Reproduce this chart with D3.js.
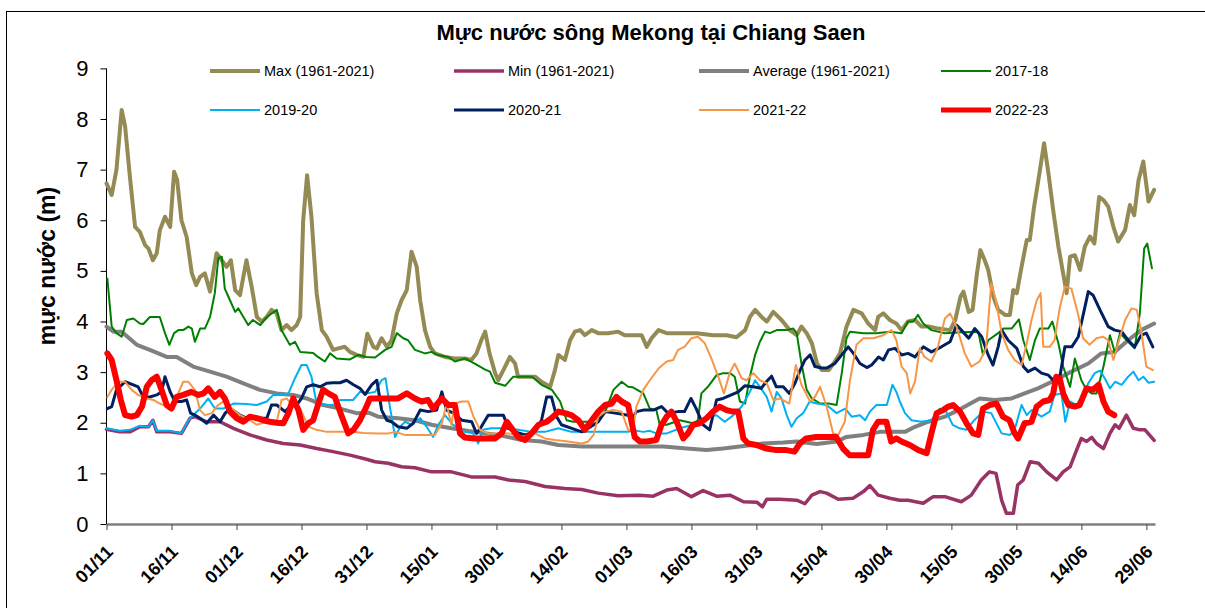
<!DOCTYPE html>
<html>
<head>
<meta charset="utf-8">
<script src="https://cdn.jsdelivr.net/npm/d3@7"></script>
<style>
  body { margin: 0; background: #fff; }
  text { font-family: "Liberation Sans", Arial, sans-serif; }
</style>
</head>
<body>
<div class="chart"></div>
<script>
// data: [day since 01/11, water level (m)]
const tickDays = [0, 15, 30, 45, 60, 75, 90, 105, 120, 135, 150, 165, 180, 195, 210, 225, 240]
const tickLabels = ['01/11','16/11','01/12','16/12','31/12','15/01','30/01','14/02','01/03','16/03','31/03','15/04','30/04','15/05','30/05','14/06','29/06']
const yTicks = [0, 1, 2, 3, 4, 5, 6, 7, 8, 9]

const maxData = [[0,6.73],[1.2,6.5],[2.3,7.0],[3.5,8.18],[4.3,7.85],[5.4,6.86],[6.6,5.87],[7.7,5.77],[8.9,5.51],[9.7,5.44],[10.7,5.21],[11.6,5.35],[12.3,5.8],[13.5,6.07],[14.7,5.87],[15.6,6.96],[16.3,6.8],[17.3,6.0],[18.5,5.67],[19.7,4.95],[20.7,4.72],[21.6,4.88],[22.7,4.95],[23.9,4.59],[25.4,5.35],[26.6,5.21],[27.7,5.08],[28.7,5.21],[29.7,4.62],[30.8,4.52],[32.3,5.21],[33.5,4.69],[34.7,4.09],[35.8,4.0],[37,4.09],[38.1,4.23],[39.3,4.16],[40.4,3.83],[41.6,3.93],[42.7,3.83],[43.9,3.93],[44.7,4.09],[45.4,6.0],[46.3,6.89],[47.3,6.07],[48.5,4.56],[49.7,3.83],[50.8,3.7],[52.3,3.44],[53.5,3.47],[55,3.5],[56.2,3.4],[57.7,3.34],[59.3,3.3],[60.2,3.76],[61.6,3.5],[62.4,3.47],[63.5,3.67],[64.7,3.5],[65.8,3.63],[67,4.16],[68.1,4.42],[69.3,4.62],[70.4,5.38],[71.6,5.08],[72.4,4.42],[73.5,3.83],[74.7,3.5],[75.8,3.37],[78.1,3.3],[80.4,3.27],[82.7,3.27],[84.2,3.24],[85.4,3.37],[86.5,3.63],[87.4,3.8],[88.4,3.37],[89.7,2.98],[90.4,2.84],[91.6,3.04],[93.1,3.3],[94.3,3.17],[95,2.91],[96.6,2.91],[98.9,2.91],[100.4,2.81],[102.4,2.71],[103.5,3.04],[104.3,3.34],[105.8,3.24],[107,3.63],[108.1,3.8],[109.3,3.83],[110.4,3.73],[112,3.83],[113.5,3.77],[115.8,3.77],[118.1,3.8],[119.6,3.73],[123.5,3.73],[124.7,3.5],[125.8,3.67],[127.4,3.83],[129.3,3.77],[132.3,3.77],[136.2,3.77],[140,3.73],[143.1,3.73],[145.4,3.69],[147.4,3.83],[148.5,4.09],[149.7,4.23],[151.2,4.09],[152.4,4.0],[153.9,4.19],[155.8,4.03],[157.7,3.83],[159.3,3.73],[160.4,3.9],[161.6,3.77],[162.8,3.57],[164,3.17],[165.1,3.04],[166.7,3.04],[167.8,3.17],[169.3,3.37],[170.8,3.9],[172.4,4.23],[174.3,4.16],[175.8,3.96],[177.4,3.83],[178.1,4.09],[179.3,4.16],[180.8,4.03],[182.3,3.96],[183.5,3.83],[185,4.0],[186.6,4.03],[188.1,3.9],[189.7,3.9],[192,3.86],[194.7,3.83],[195.9,4.03],[197.1,4.49],[197.8,4.59],[199,4.19],[199.9,4.23],[200.9,4.95],[201.7,5.41],[202.7,5.21],[203.5,5.02],[204.7,4.49],[205.8,4.23],[207.4,4.13],[208.5,4.13],[209.3,4.62],[210.1,4.56],[211.2,5.08],[212.4,5.61],[213.1,5.61],[214.1,6.27],[215.2,6.86],[216.4,7.52],[217.4,6.93],[218.5,6.2],[219.7,5.48],[220.8,4.95],[221.6,4.56],[222.4,5.28],[223.5,5.31],[224.7,5.02],[225.8,5.48],[227,5.68],[228,5.54],[229.1,6.46],[230.1,6.4],[231.2,6.27],[232.4,5.87],[233.5,5.58],[235.1,5.81],[236.2,6.3],[237.2,6.1],[238.2,6.79],[239.3,7.16],[240.5,6.37],[241.8,6.6]]

const minData = [[0,1.87],[3,1.82],[5.4,1.82],[7.7,1.92],[9.7,1.92],[10.7,2.05],[11.6,1.82],[14.7,1.82],[17.3,1.79],[19.3,2.09],[20.4,2.12],[23.1,2.02],[26.2,2.02],[29.3,1.89],[33.1,1.76],[37,1.66],[40.8,1.59],[44.7,1.56],[48.5,1.49],[52.3,1.43],[56.2,1.36],[60,1.28],[62,1.23],[65,1.2],[68.1,1.13],[71.2,1.11],[75,1.03],[79.6,1.03],[84.2,0.93],[89.7,0.93],[92.8,0.87],[96.6,0.84],[101.2,0.74],[105.8,0.7],[109.7,0.68],[113.5,0.61],[118.1,0.56],[123,0.57],[126.2,0.55],[129.3,0.67],[131.6,0.7],[135,0.54],[137.7,0.66],[140.8,0.55],[143.9,0.57],[147,0.44],[150.1,0.43],[151.4,0.34],[152.4,0.49],[155.4,0.49],[159.3,0.47],[161.2,0.4],[162.8,0.57],[164.7,0.64],[166.2,0.61],[168.9,0.49],[172.3,0.51],[174.7,0.64],[176.2,0.76],[178.1,0.57],[180.8,0.51],[183.1,0.47],[185,0.47],[188.5,0.41],[190.8,0.54],[193.5,0.54],[197.3,0.44],[199.6,0.57],[201.9,0.87],[203.8,1.03],[205.3,1.0],[206.6,0.47],[207.7,0.21],[209.3,0.21],[210.3,0.77],[211.6,0.87],[213.2,1.23],[215.1,1.2],[217,1.03],[219.3,0.87],[220.8,1.03],[222.4,1.13],[223.9,1.46],[225,1.69],[226.2,1.63],[227.4,1.71],[228.5,1.59],[230.1,1.49],[231.6,1.79],[232.8,1.96],[233.7,1.89],[235.4,2.15],[237,1.89],[238.5,1.86],[239.7,1.86],[241.8,1.65]]

const avgData = [[0,3.9],[1.6,3.8],[3.5,3.8],[7,3.54],[10,3.44],[13.9,3.3],[16.2,3.3],[20,3.11],[23.9,3.01],[27.7,2.91],[31.6,2.78],[35.4,2.65],[39.3,2.58],[43.1,2.55],[46.2,2.48],[50,2.35],[53.9,2.28],[57.7,2.19],[60.5,2.2],[62.7,2.12],[67.3,2.09],[71.2,2.05],[75,1.96],[79.6,1.89],[85,1.82],[90.4,1.76],[95.8,1.66],[100.4,1.63],[104.3,1.56],[109.7,1.53],[115,1.53],[122,1.53],[128.5,1.53],[133.9,1.49],[138.5,1.46],[142.3,1.49],[146.2,1.53],[151.5,1.59],[156.2,1.61],[159.3,1.63],[163.9,1.58],[168.5,1.63],[170.8,1.72],[174.7,1.76],[178.5,1.82],[184.3,1.82],[186.6,1.92],[189.7,2.02],[193.5,2.12],[197.3,2.28],[201.5,2.48],[205,2.45],[208.9,2.48],[211.9,2.58],[215,2.68],[218.9,2.84],[222.7,3.01],[226.6,3.17],[229.6,3.37],[232.7,3.4],[235.8,3.63],[238.8,3.83],[241.8,3.96]]

const y1718 = [[0.2,4.85],[1.2,3.9],[2.3,3.77],[3.5,3.7],[4.7,4.03],[6.2,4.06],[7.7,3.96],[8.5,3.95],[10,4.09],[12.3,4.09],[13.5,3.77],[14.5,3.54],[15.6,3.77],[16.6,3.83],[17.7,3.83],[18.9,3.9],[19.7,3.86],[20.4,3.6],[21.6,3.86],[22.7,3.86],[23.9,4.09],[25,4.56],[25.8,5.25],[26.6,5.28],[27.3,4.65],[28.5,4.42],[29.7,4.19],[30.4,4.26],[31.6,4.09],[32.7,3.93],[33.8,4.03],[35.5,3.93],[37,4.09],[39.3,4.23],[40.4,3.83],[42.3,3.54],[43.5,3.6],[44.7,3.4],[47.7,3.38],[48.8,3.3],[50.4,3.21],[51.6,3.37],[53.1,3.27],[56.2,3.25],[58.1,3.34],[60,3.3],[62,3.29],[64.3,3.44],[65.8,3.5],[67,3.77],[68.5,3.67],[69.6,3.63],[71.2,3.44],[73.5,3.37],[75,3.4],[76.5,3.34],[78.9,3.3],[80.4,3.21],[82.7,3.27],[85,3.17],[87.4,3.05],[88.5,3.01],[89.7,2.79],[92,2.73],[93.9,2.91],[95.8,2.91],[98.2,2.91],[100.4,2.75],[102.8,2.65],[104.7,2.42],[106.2,2.05],[107.7,2.02],[110,2.02],[112,2.02],[115,2.19],[117,2.65],[118.9,2.81],[120.4,2.71],[121.5,2.7],[123.9,2.58],[125.4,2.28],[126.9,2.25],[127.7,1.96],[129.3,1.96],[132.3,2.05],[135.4,1.99],[136.5,2.05],[137.3,2.58],[138.8,2.71],[140.8,2.94],[142.3,2.98],[143.9,2.98],[145,2.91],[146.2,2.42],[147.4,2.38],[148.5,2.91],[149.7,3.34],[150.8,3.6],[152,3.8],[153.1,3.77],[154.7,3.83],[157,3.83],[158.5,3.86],[159.3,3.77],[160.4,3.17],[161.6,2.65],[162.8,2.48],[164.7,2.38],[166.7,2.38],[168.5,2.35],[169.7,2.98],[170.8,3.67],[171.6,3.8],[174.7,3.77],[177.7,3.77],[180.8,3.8],[183.5,3.77],[185,4.0],[186.2,4.0],[187.3,4.13],[188.5,3.96],[190.4,3.83],[193.5,3.77],[197.3,3.79],[201.2,3.8],[202.3,3.34],[203.5,3.63],[205.8,3.77],[207,3.86],[208.9,3.86],[210.6,4.04],[211.6,3.63],[213.1,3.24],[214.3,3.63],[215.4,3.86],[217.4,3.86],[218.3,4.0],[219.7,3.57],[220.8,3.11],[222.4,2.71],[223.5,3.27],[225,2.84],[226.2,2.65],[227.4,2.58],[228.5,2.58],[230.1,3.11],[231.6,3.73],[232.8,3.37],[233.9,3.77],[235.8,3.6],[237.3,3.47],[238.5,4.16],[239.5,5.44],[240.2,5.54],[241.3,5.05]]

const y1920 = [[0,1.89],[3.1,1.84],[5.4,1.86],[7.7,1.94],[9.7,1.92],[10.7,2.05],[11.6,1.84],[14.7,1.84],[17.3,1.79],[18.9,2.05],[20,2.15],[21.6,2.28],[23.5,2.48],[25,2.28],[27,2.28],[29.3,2.38],[32.3,2.37],[34.7,2.35],[37,2.42],[38.5,2.55],[40.4,2.55],[42,2.58],[43.5,2.88],[45,3.14],[46.2,3.14],[47.3,2.91],[48.5,2.38],[49.7,2.35],[52.3,2.35],[53.9,2.45],[56.9,2.45],[58.5,2.61],[60,2.58],[62,2.61],[63.5,2.84],[64.4,2.88],[65.4,2.32],[66.6,1.72],[67.8,1.92],[68.9,2.02],[70.4,1.96],[72.4,2.09],[73.9,1.92],[75.4,1.72],[76.6,1.96],[78.1,2.15],[80,1.96],[82.7,1.82],[84.6,1.79],[85.8,1.59],[86.9,1.86],[88.8,1.89],[91.9,1.89],[95,1.86],[98.1,1.82],[101.2,1.82],[104.3,1.89],[107.3,1.82],[113.5,1.82],[120.4,1.82],[121.5,1.85],[123.9,1.82],[125.4,1.84],[126.9,1.79],[129.3,1.79],[132.3,1.89],[135.4,1.96],[136.9,2.02],[138.5,2.12],[140.8,2.15],[142.7,2.02],[144.7,2.15],[146.6,2.32],[148.5,2.61],[149.7,2.84],[150.8,2.71],[152.4,2.51],[153.5,2.22],[154.7,2.61],[155.8,2.48],[157,2.15],[158.1,1.92],[159.3,2.09],[160.8,2.19],[162.3,2.42],[163.9,2.38],[166.2,2.35],[168.5,2.19],[170.5,2.28],[172,2.12],[173.9,2.15],[175.1,2.05],[176.2,2.22],[177.7,2.35],[180.1,2.35],[181.4,2.75],[182.3,2.61],[183.1,2.42],[184.3,2.19],[185.8,2.05],[188.1,2.02],[190.4,2.05],[192.3,2.28],[193.8,2.22],[195.3,1.96],[196.9,1.89],[198.4,1.86],[200.3,2.05],[202.3,2.22],[204.2,2.19],[206.6,1.79],[208.5,1.76],[209.6,1.86],[211.2,2.35],[212.4,2.15],[213.5,2.25],[215.8,2.12],[217.7,2.22],[218.8,2.55],[220.4,2.58],[221.3,2.02],[222.4,2.42],[223.9,2.35],[225.4,2.55],[226.6,2.78],[228.1,2.98],[229.3,3.03],[230.4,2.88],[231.6,2.68],[232.8,2.81],[234.3,2.75],[235.8,2.91],[237,3.01],[238.2,2.84],[239.3,2.91],[240.5,2.79],[241.8,2.81]]

const y2021 = [[0.2,2.28],[1.2,2.32],[2.3,2.65],[4.3,2.81],[6.2,2.75],[7.3,2.71],[8.5,2.51],[10,2.51],[11.6,2.55],[12.7,2.61],[13.5,2.91],[14.7,2.61],[15.8,2.42],[17.3,2.42],[18.5,2.45],[19.4,2.19],[20.4,2.15],[21.6,2.09],[23.1,1.99],[24.7,2.15],[26.2,2.02],[27.4,2.19],[28.5,2.28],[29.7,2.22],[30.8,2.15],[32.3,2.09],[33.9,2.12],[35.4,2.09],[37,2.09],[38.1,2.35],[39.3,2.35],[41.2,2.22],[42.7,2.35],[43.9,2.35],[45,2.48],[46.2,2.71],[47.7,2.75],[49.3,2.71],[50.8,2.78],[52.3,2.79],[53.9,2.79],[55.4,2.84],[57,2.75],[58.5,2.68],[59.7,2.56],[61.2,2.75],[62.4,2.84],[63.5,2.25],[64.7,2.05],[65.8,2.02],[67.3,1.92],[69.3,1.89],[70.8,1.99],[72.4,2.25],[74.3,2.22],[76.2,2.25],[77.4,2.61],[78.5,2.25],[80.1,2.19],[82,2.05],[84.3,2.02],[85.4,1.79],[86.5,1.92],[88.1,2.15],[90,2.15],[91.6,2.15],[92.8,1.89],[94.3,1.82],[96.6,1.76],[98.9,1.82],[100.4,2.05],[101.6,2.51],[102.7,2.51],[103.9,2.12],[105,1.96],[107.4,1.89],[109.7,1.82],[111.2,1.89],[113.5,2.02],[115.1,2.22],[117.4,2.19],[120.4,2.15],[121.5,2.1],[122.3,2.22],[123.9,2.25],[126.2,2.25],[128.1,2.32],[129.6,2.19],[131.9,2.22],[133.4,2.22],[134.9,2.48],[136.1,2.28],[137.7,1.96],[139.2,1.86],[140.8,2.45],[142.3,2.48],[144.2,2.55],[145.8,2.61],[147.3,2.73],[149.3,2.71],[151.1,2.68],[152.3,2.81],[153.5,2.92],[154.6,2.71],[156.2,2.71],[157.6,2.58],[158.9,2.78],[160.1,3.04],[161.2,3.24],[162.4,3.34],[163.5,3.11],[165.1,3.08],[166.2,3.08],[168.1,3.17],[169.7,3.34],[171.2,3.5],[172.4,3.37],[173.9,3.17],[175.5,3.09],[176.6,3.14],[178.2,3.3],[179.3,3.24],[180.5,3.44],[182,3.47],[183.5,3.34],[185,3.37],[186.6,3.3],[188.5,3.5],[190.4,3.4],[192.7,3.5],[194.7,3.6],[196.2,3.93],[197.3,3.83],[199,3.67],[200.4,3.86],[202,3.7],[203.5,3.34],[204.6,3.14],[205.8,3.5],[206.6,3.83],[208.1,3.63],[210.1,3.47],[211.6,3.11],[212.7,3.01],[214.3,3.08],[215.8,2.98],[217.4,2.94],[218.5,2.84],[220.1,2.94],[221.2,3.5],[222.8,3.5],[224.3,3.7],[225.5,4.16],[226.6,4.59],[227.7,4.52],[229.3,4.23],[231.2,3.9],[232.7,3.83],[234.3,3.8],[235.8,3.63],[237.3,3.5],[238.8,3.73],[240,3.77],[241.5,3.5]]

const y2122 = [[0.2,2.51],[1.2,2.65],[2.7,2.81],[4.3,2.81],[5.8,2.65],[7.3,2.55],[9.3,2.48],[10.8,2.45],[12.3,2.38],[13.9,2.32],[15,2.32],[16.2,2.51],[17.7,2.81],[18.9,2.81],[20.4,2.65],[21.6,2.25],[22.7,2.15],[24.3,2.19],[25.4,2.32],[26.9,2.42],[28.5,2.32],[30.8,2.15],[33.1,2.05],[34.7,1.96],[37,2.02],[39.3,2.02],[40.4,2.45],[41.6,2.48],[43.1,2.32],[44.7,2.28],[46.6,1.92],[48.5,1.86],[50.8,1.82],[53.9,1.82],[56.9,1.82],[59.3,1.8],[62.7,1.79],[65,1.79],[66.6,1.82],[68.9,1.76],[72.6,1.76],[75.8,1.76],[77.4,1.99],[78.5,2.38],[79.6,1.96],[80.4,2.38],[82,2.42],[83.5,2.42],[84.7,2.12],[86.2,1.86],[88.1,1.79],[92.8,1.79],[95.8,1.72],[98.9,1.79],[101.2,1.69],[103.5,1.66],[106.5,1.63],[109.7,1.59],[111.2,1.63],[112.4,1.76],[113.5,2.12],[115.1,2.22],[117,2.25],[118.9,2.22],[120.4,1.86],[121.5,1.84],[122.3,2.32],[123.9,2.65],[125.4,2.84],[127.4,3.07],[129.3,3.21],[130.8,3.24],[131.9,3.44],[133.4,3.5],[135,3.67],[136.5,3.7],[138.1,3.57],[139.6,3.27],[141.2,2.91],[142.5,2.58],[143.9,3.0],[145,3.17],[146.6,2.88],[147.7,2.84],[149.3,2.98],[150.8,2.84],[152.4,2.78],[153.9,2.45],[155.4,2.48],[157.6,2.38],[159.1,3.14],[160.4,2.75],[162.4,2.42],[163.5,2.51],[164.7,2.71],[166.2,2.32],[167.7,1.79],[168.9,1.76],[170.4,2.02],[171.6,2.84],[173.1,3.54],[174.7,3.67],[177,3.67],[179.3,3.73],[181.2,3.83],[182.3,3.63],[183.5,3.11],[184.7,2.98],[185.5,2.58],[186.6,2.81],[187.7,3.47],[188.8,3.3],[190.4,3.21],[191.9,3.5],[193.5,4.06],[194.7,4.16],[196.2,3.9],[198.1,3.37],[199.6,3.11],[201.5,3.21],[203,3.47],[204.2,4.75],[205.3,4.42],[206.6,3.77],[208.1,3.44],[209.6,3.24],[211.2,3.14],[212.4,3.57],[213.5,4.03],[214.7,4.42],[215.6,4.56],[216.2,3.5],[217.7,3.5],[218.8,3.63],[220,4.26],[221.2,4.69],[222.7,4.65],[224.2,4.16],[225.4,3.67],[226.9,3.54],[228.5,3.67],[230,3.7],[231.2,3.63],[232.4,3.24],[233.5,3.57],[235.1,4.03],[236.6,4.26],[237.8,4.23],[238.9,3.77],[240,3.11],[241.5,3.04]]

const y2223 = [[0.2,3.37],[1.2,3.24],[2.3,2.84],[3.3,2.45],[4.3,2.15],[5.8,2.12],[7,2.15],[8.2,2.32],[9.3,2.71],[10.4,2.84],[11.6,2.91],[12.7,2.65],[13.9,2.35],[15,2.28],[16.2,2.51],[17.7,2.55],[19.6,2.61],[21.2,2.55],[22.4,2.58],[23.5,2.68],[25,2.51],[26.2,2.61],[27.3,2.48],[28.5,2.22],[30,2.09],[31.6,2.02],[33.1,2.12],[34.7,2.09],[36.2,2.05],[37.7,2.02],[39.3,2.0],[40.8,1.99],[42,2.19],[43.1,2.48],[44.3,2.25],[45.4,1.86],[46.6,1.99],[47.7,2.05],[48.9,2.38],[50,2.65],[51.2,2.58],[52.7,2.51],[54.2,2.15],[55.8,1.79],[57,1.86],[58.5,2.05],[60,2.32],[60.8,2.48],[62.7,2.48],[65,2.48],[67.3,2.48],[69.3,2.58],[71.2,2.48],[72.7,2.42],[74.2,2.45],[75.4,2.28],[77.4,2.48],[78.9,2.35],[80.4,2.35],[81.6,1.79],[82.7,1.71],[85,1.69],[87.4,1.69],[89.7,1.69],[91.2,1.79],[92.4,2.02],[93.5,1.89],[95,1.72],[96.6,1.66],[98.1,1.79],[99.7,1.96],[101.6,2.02],[102.7,2.09],[104.3,2.22],[105.8,2.19],[107.3,2.15],[108.9,2.05],[110.4,1.86],[112,2.05],[113.5,2.22],[115.1,2.35],[116.6,2.38],[117.7,2.51],[118.9,2.42],[120.4,2.35],[121.9,1.72],[123.1,1.63],[124.7,1.63],[126.9,1.66],[128.1,1.96],[129.3,2.12],[130.4,2.22],[131.6,2.02],[133.1,1.69],[134.2,1.79],[135.4,1.96],[136.9,1.99],[138.5,2.09],[140,2.22],[141.5,2.32],[143.1,2.25],[144.6,2.22],[145.8,2.22],[147,1.69],[148.1,1.59],[150,1.56],[152.3,1.49],[154.6,1.46],[156.9,1.46],[158.8,1.43],[160,1.59],[161.5,1.69],[163.8,1.72],[166.1,1.72],[168.4,1.72],[170,1.49],[171.5,1.36],[173.8,1.36],[175.8,1.36],[176.9,1.86],[178.1,2.02],[180,2.02],[181.1,1.63],[182.3,1.69],[183.5,1.63],[185.4,1.56],[187.4,1.46],[189.3,1.4],[190.4,1.79],[191.6,2.19],[193.1,2.25],[194.3,2.32],[195.4,2.35],[197,2.22],[198.5,1.99],[200,1.79],[201.2,1.76],[202.3,2.28],[203.8,2.35],[205.4,2.38],[206.9,2.12],[208.4,2.05],[209.6,1.79],[210.4,1.69],[211.9,1.99],[213.5,2.02],[214.7,2.32],[216.2,2.42],[217.7,2.45],[218.5,2.58],[219.2,2.91],[220,2.88],[220.8,2.58],[222,2.35],[223.5,2.32],[224.6,2.35],[226.2,2.68],[227.7,2.65],[229,2.75],[230.1,2.42],[231.2,2.22],[232.6,2.15]]

// series in drawing order (legend order)
const series = [
  {name: 'Max (1961-2021)', data: maxData, color: '#948a54', width: 4},
  {name: 'Min (1961-2021)', data: minData, color: '#993366', width: 3.5},
  {name: 'Average (1961-2021)', data: avgData, color: '#808080', width: 4},
  {name: '2017-18', data: y1718, color: '#008000', width: 2},
  {name: '2019-20', data: y1920, color: '#00b0f0', width: 2},
  {name: '2020-21', data: y2021, color: '#002060', width: 3},
  {name: '2021-22', data: y2122, color: '#f79646', width: 2},
  {name: '2022-23', data: y2223, color: '#ff0000', width: 6}
]

drawChart()

function drawChart(){
    const width = 1205,
          height = 608

    const svg = d3.select('.chart')
                  .append('svg')
                  .attr('width', width)
                  .attr('height', height)

    // khung ngoài
    svg.append('rect')
       .attr('x', 6.5).attr('y', 11.5)
       .attr('width', width).attr('height', height)
       .attr('fill', 'none').attr('stroke', '#000').attr('stroke-width', 1)

    const xScale = d3.scaleLinear()
                     .domain([0, 242])
                     .range([106.5, 1155])

    const yScale = d3.scaleLinear()
                     .domain([0, 9])
                     .range([524, 68.4])

    // trục y
    const yAxis = d3.axisLeft(yScale)
                    .tickValues(yTicks)
                    .tickFormat(d3.format('d'))
                    .tickSize(6)
                    .tickPadding(12)

    const yAxisGroup = svg.append('g')
                          .attr('transform', `translate(${xScale(0)},0)`)
                          .call(yAxis)
    yAxisGroup.select('.domain').attr('d', `M0,${yScale(9)}V${yScale(0)}`).attr('stroke', '#000')
    yAxisGroup.selectAll('text')
              .style('font-size', '22px')
              .style('font-family', '"Liberation Sans", Arial, sans-serif')
              .attr('fill', '#000')

    // trục x
    const xAxis = d3.axisBottom(xScale)
                    .tickValues(tickDays)
                    .tickFormat((d, i) => tickLabels[i])
                    .tickSize(6)
                    .tickSizeOuter(0)

    const xAxisGroup = svg.append('g')
                          .attr('transform', `translate(0,${yScale(0)})`)
                          .call(xAxis)
    xAxisGroup.select('.domain').attr('stroke', '#808080').attr('stroke-width', 2.5)
    xAxisGroup.selectAll('.tick line').attr('stroke', '#606060').attr('stroke-width', 1.2)
    xAxisGroup.selectAll('text')
              .attr('y', 0).attr('dy', 0)
              .attr('transform', 'translate(7,29) rotate(-45)')
              .style('text-anchor', 'end')
              .style('font-size', '18px')
              .style('font-weight', 'bold')
              .style('font-family', '"Liberation Sans", Arial, sans-serif')
              .attr('fill', '#000')

    // các đường
    const line = d3.line()
                   .x(d => xScale(d[0]))
                   .y(d => yScale(d[1]))

    svg.append('g')
       .selectAll('path')
       .data(series)
       .join('path')
       .attr('d', d => line(d.data))
       .attr('fill', 'none')
       .attr('stroke', d => d.color)
       .attr('stroke-width', d => d.width)
       .attr('stroke-linejoin', 'round')
       .attr('stroke-linecap', 'round')

    // tiêu đề
    svg.append('text')
       .attr('x', 651)
       .attr('y', 40)
       .style('text-anchor', 'middle')
       .style('font-size', '22px')
       .style('font-weight', 'bold')
       .text('Mực nước sông Mekong tại Chiang Saen')

    svg.append('text')
       .attr('transform', 'translate(55,266) rotate(-90)')
       .style('text-anchor', 'middle')
       .style('font-size', '23px')
       .style('font-weight', 'bold')
       .text('mực nước (m)')

    // chú thích
    const legendX = [210, 454, 699, 941],
          legendY = [71, 110]

    const legend = svg.append('g')
                      .selectAll('g')
                      .data(series)
                      .join('g')
                      .attr('transform', (d, i) => `translate(${legendX[i % 4]},${legendY[Math.floor(i / 4)]})`)

    legend.append('line')
          .attr('x1', 0).attr('x2', 50)
          .attr('stroke', d => d.color)
          .attr('stroke-width', d => Math.min(d.width, 5))

    legend.append('text')
          .attr('x', 54)
          .attr('y', 5)
          .style('font-size', '14.5px')
          .attr('fill', '#000')
          .text(d => d.name)
}
</script>
</body>
</html>
